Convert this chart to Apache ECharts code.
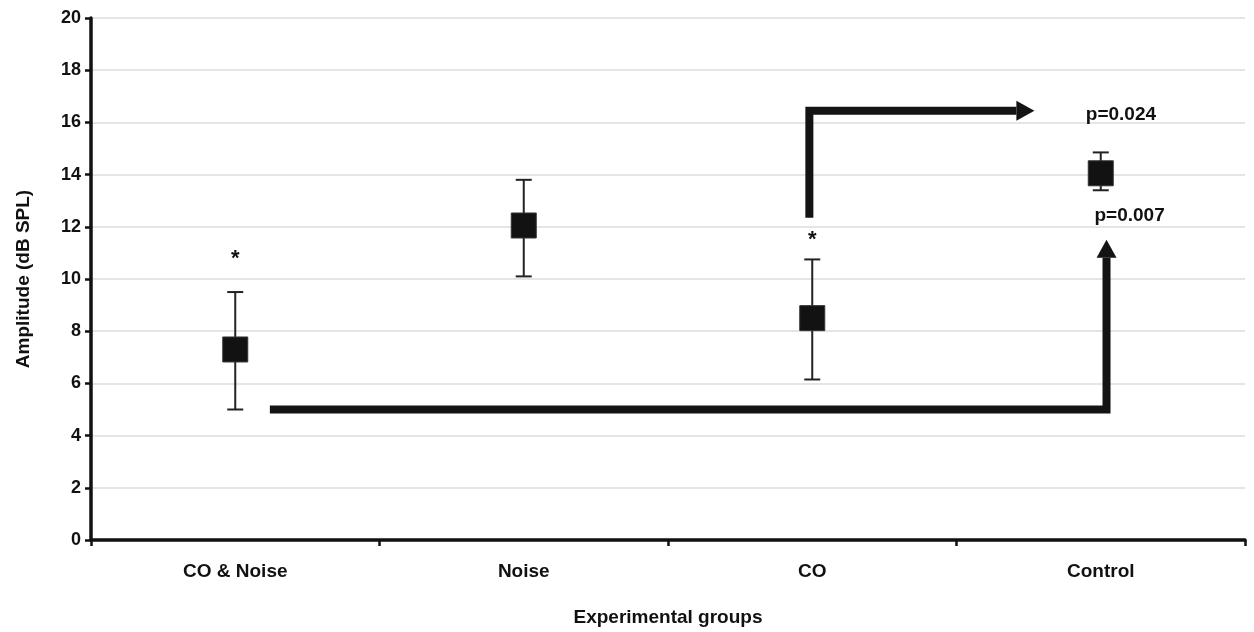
<!DOCTYPE html>
<html>
<head>
<meta charset="utf-8">
<script src="https://cdn.jsdelivr.net/npm/echarts@6/dist/echarts.min.js"></script>
<style>
  html, body { margin: 0; padding: 0; background: #fff; }
  #chart { width: 1254px; height: 632px; }
</style>
</head>
<body>
<div id="chart"></div>
<script>
  var groups = ['CO & Noise', 'Noise', 'CO', 'Control'];
  var means = [7.3, 12.05, 8.5, 14.05];
  var errLow = [5.0, 10.1, 6.15, 13.4];
  var errHigh = [9.5, 13.8, 10.75, 14.85];
  var yTicks = [0, 2, 4, 6, 8, 10, 12, 14, 16, 18, 20];

  // arrows, in [group position, amplitude]
  var arrowBottom = [[0.12, 5.0], [3.02, 5.0], [3.02, 11.5]];
  var arrowTop = [[1.99, 12.35], [1.99, 16.45], [2.77, 16.45]];
  // notes: [group position, amplitude, text, font size]
  var notes = [[0, 10.75, '*', 22], [2, 11.5, '*', 22], [3.07, 16.3, 'p=0.024', 19], [3.1, 12.42, 'p=0.007', 19]];

  var chart = echarts.init(document.getElementById('chart'));
  var font = 'Liberation Sans, Arial, sans-serif';

  var option = {
    animation: false,
    grid: { left: 91, right: 9, top: 18, bottom: 92, outerBoundsMode: 'none', containLabel: false },
    xAxis: [
      {
        type: 'category',
        data: groups,
        name: 'Experimental groups',
        nameLocation: 'middle',
        nameGap: 68,
        nameTextStyle: { fontFamily: font, fontWeight: 'bold', fontSize: 19, color: '#111' },
        axisLine: { lineStyle: { color: '#111', width: 3.5 } },
        axisTick: { show: true, length: 6, lineStyle: { color: '#111', width: 2.5 } },
        axisLabel: { fontFamily: font, fontWeight: 'bold', fontSize: 19, color: '#111', margin: 22 },
        splitLine: { show: false }
      },
      {
        type: 'value',
        min: -0.5,
        max: 3.5,
        show: false
      }
    ],
    yAxis: {
      type: 'value',
      min: yTicks[0],
      max: yTicks[yTicks.length - 1],
      interval: 2,
      name: 'Amplitude (dB SPL)',
      nameLocation: 'middle',
      nameGap: 58,
      nameTextStyle: { fontFamily: font, fontWeight: 'bold', fontSize: 19, color: '#111' },
      axisLine: { show: true, onZero: false, lineStyle: { color: '#111', width: 3.5 } },
      axisTick: { show: true, length: 6, lineStyle: { color: '#111', width: 2.5 } },
      axisLabel: { fontFamily: font, fontWeight: 'bold', fontSize: 18, color: '#111', margin: 10 },
      splitLine: { lineStyle: { color: '#dcdcdc', width: 1.5 } }
    },
    series: [
      {
        type: 'custom',
        xAxisIndex: 0,
        data: groups.map(function (g, i) { return [i, errLow[i], errHigh[i]]; }),
        renderItem: function (params, api) {
          var lo = api.coord([api.value(0), api.value(1)]);
          var hi = api.coord([api.value(0), api.value(2)]);
          var w = 8;
          var st = { stroke: '#222', lineWidth: 2 };
          return {
            type: 'group',
            children: [
              { type: 'line', shape: { x1: lo[0], y1: lo[1], x2: hi[0], y2: hi[1] }, style: st },
              { type: 'line', shape: { x1: lo[0] - w, y1: lo[1], x2: lo[0] + w, y2: lo[1] }, style: st },
              { type: 'line', shape: { x1: hi[0] - w, y1: hi[1], x2: hi[0] + w, y2: hi[1] }, style: st }
            ]
          };
        },
        z: 2
      },
      {
        type: 'scatter',
        xAxisIndex: 0,
        data: means,
        symbol: 'rect',
        symbolSize: 25,
        itemStyle: { color: '#121212', borderColor: '#333', borderWidth: 1, opacity: 1 },
        z: 3
      },
      {
        type: 'custom',
        xAxisIndex: 1,
        data: [0, 1],
        renderItem: function (params, api) {
          var pts = (params.dataIndex === 0 ? arrowBottom : arrowTop).map(function (p) { return api.coord(p); });
          var a = pts[pts.length - 2], b = pts[pts.length - 1];
          var dx = b[0] - a[0], dy = b[1] - a[1];
          var len = Math.sqrt(dx * dx + dy * dy);
          var ux = dx / len, uy = dy / len;
          var headL = 18, headW = 10;
          var base = [b[0] - ux * headL, b[1] - uy * headL];
          var line = pts.slice(0, pts.length - 1).concat([base]);
          return {
            type: 'group',
            children: [
              { type: 'polyline', shape: { points: line }, style: { stroke: '#141414', lineWidth: 8, fill: null, lineJoin: 'miter', lineCap: 'butt' } },
              { type: 'polygon', shape: { points: [b, [base[0] - uy * headW, base[1] + ux * headW], [base[0] + uy * headW, base[1] - ux * headW]] }, style: { fill: '#141414' } }
            ]
          };
        },
        z: 4
      },
      {
        type: 'custom',
        xAxisIndex: 1,
        data: notes.map(function (n) { return [n[0], n[1]]; }),
        renderItem: function (params, api) {
          var n = notes[params.dataIndex];
          var p = api.coord([n[0], n[1]]);
          return {
            type: 'text',
            x: p[0],
            y: p[1],
            style: {
              text: n[2],
              fontFamily: font,
              fontWeight: 'bold',
              fontSize: n[3],
              fill: '#111',
              align: 'center',
              verticalAlign: 'middle'
            }
          };
        },
        z: 5
      }
    ]
  };
  chart.setOption(option);
</script>
</body>
</html>
